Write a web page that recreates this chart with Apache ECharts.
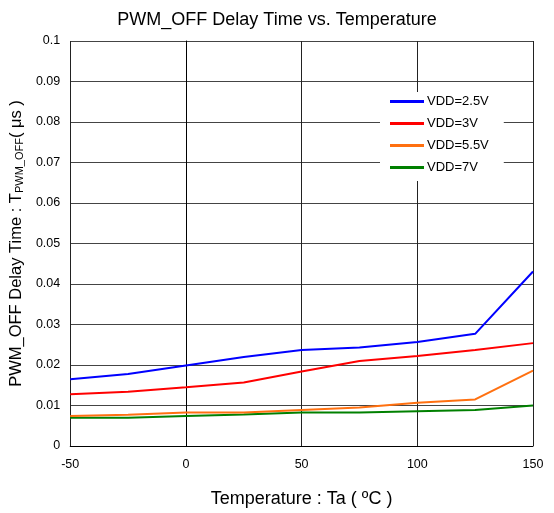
<!DOCTYPE html>
<html><head><meta charset="utf-8">
<script src="https://cdn.jsdelivr.net/npm/echarts@6/dist/echarts.min.js"></script>
<style>html,body{margin:0;padding:0;background:#fff}#c{width:554px;height:513px}</style>
</head><body><div id="c"></div>
<script>
const temps = [-50, -25, 0, 25, 50, 75, 100, 125, 150];
const vdd25 = [0.0165, 0.0178, 0.0199, 0.0220, 0.0237, 0.0243, 0.0257, 0.0277, 0.0431];
const vdd3  = [0.0128, 0.0134, 0.0145, 0.0157, 0.0184, 0.0210, 0.0222, 0.0237, 0.0254];
const vdd55 = [0.0074, 0.0077, 0.0083, 0.0083, 0.0089, 0.0095, 0.0107, 0.0115, 0.0186];
const vdd7  = [0.0070, 0.0070, 0.0074, 0.0078, 0.0083, 0.0083, 0.0086, 0.0089, 0.0100];
const seriesNames = ['VDD=2.5V', 'VDD=3V', 'VDD=5.5V', 'VDD=7V'];
const seriesColors = ['#0000ff', '#ff0000', '#ff7010', '#008000'];
const seriesData = [vdd25, vdd3, vdd55, vdd7];

const font = 'Liberation Sans, Arial, sans-serif';
const chart = echarts.init(document.getElementById('c'));
chart.setOption({
  animation: false,
  backgroundColor: '#fff',
  textStyle: { fontFamily: font },
  title: {
    text: 'PWM_OFF Delay Time vs. Temperature',
    left: 'center', top: 6,
    textStyle: { fontSize: 18, fontWeight: 'normal', color: '#000', fontFamily: font }
  },
  grid: { left: 70, right: 21, top: 41, bottom: 61 },
  legend: {
    orient: 'vertical',
    left: 380, top: 92,
    data: seriesNames,
    icon: 'rect',
    itemWidth: 34, itemHeight: 3,
    itemGap: 7,
    backgroundColor: '#fff',
    padding: [2, 15, 6, 10],
    textStyle: { fontSize: 13, color: '#000', fontFamily: font, lineHeight: 15, padding: [0, 0, 0, -2] }
  },
  xAxis: {
    type: 'value', min: -50, max: 150, interval: 50,
    name: 'Temperature : Ta ( ºC )',
    nameLocation: 'middle', nameGap: 44,
    nameTextStyle: { fontSize: 18, color: '#000', fontFamily: font },
    axisLine: { lineStyle: { color: '#000', width: 1 } },
    axisTick: { show: false },
    axisLabel: { fontSize: 12.5, color: '#000', margin: 12 },
    splitLine: { show: true, lineStyle: { color: '#222', width: 1 } }
  },
  yAxis: {
    type: 'value', min: 0, max: 0.1, interval: 0.01,
    name: 'PWM_OFF Delay Time : T{sub|PWM_OFF}( μs )',
    nameLocation: 'middle', nameGap: 37,
    nameTextStyle: {
      fontSize: 16.5, color: '#000', fontFamily: font,
      rich: { sub: { fontSize: 11, color: '#000', fontFamily: font, verticalAlign: 'bottom', padding: [5, 0, 0, 0] } }
    },
    axisLine: { show: true, lineStyle: { color: '#000', width: 1 } },
    axisTick: { show: false },
    axisLabel: { fontSize: 12.5, color: '#000', margin: 10, formatter: v => String(parseFloat(v.toFixed(3))) },
    splitLine: { show: true, lineStyle: { color: '#444', width: 1 } }
  },
  series: seriesData.map((d, i) => ({
    name: seriesNames[i],
    type: 'line',
    data: temps.map((t, j) => [t, d[j]]),
    showSymbol: false,
    symbol: 'none',
    lineStyle: { color: seriesColors[i], width: 2 },
    itemStyle: { color: seriesColors[i] },
    z: 10 - i
  }))
});
</script></body></html>
